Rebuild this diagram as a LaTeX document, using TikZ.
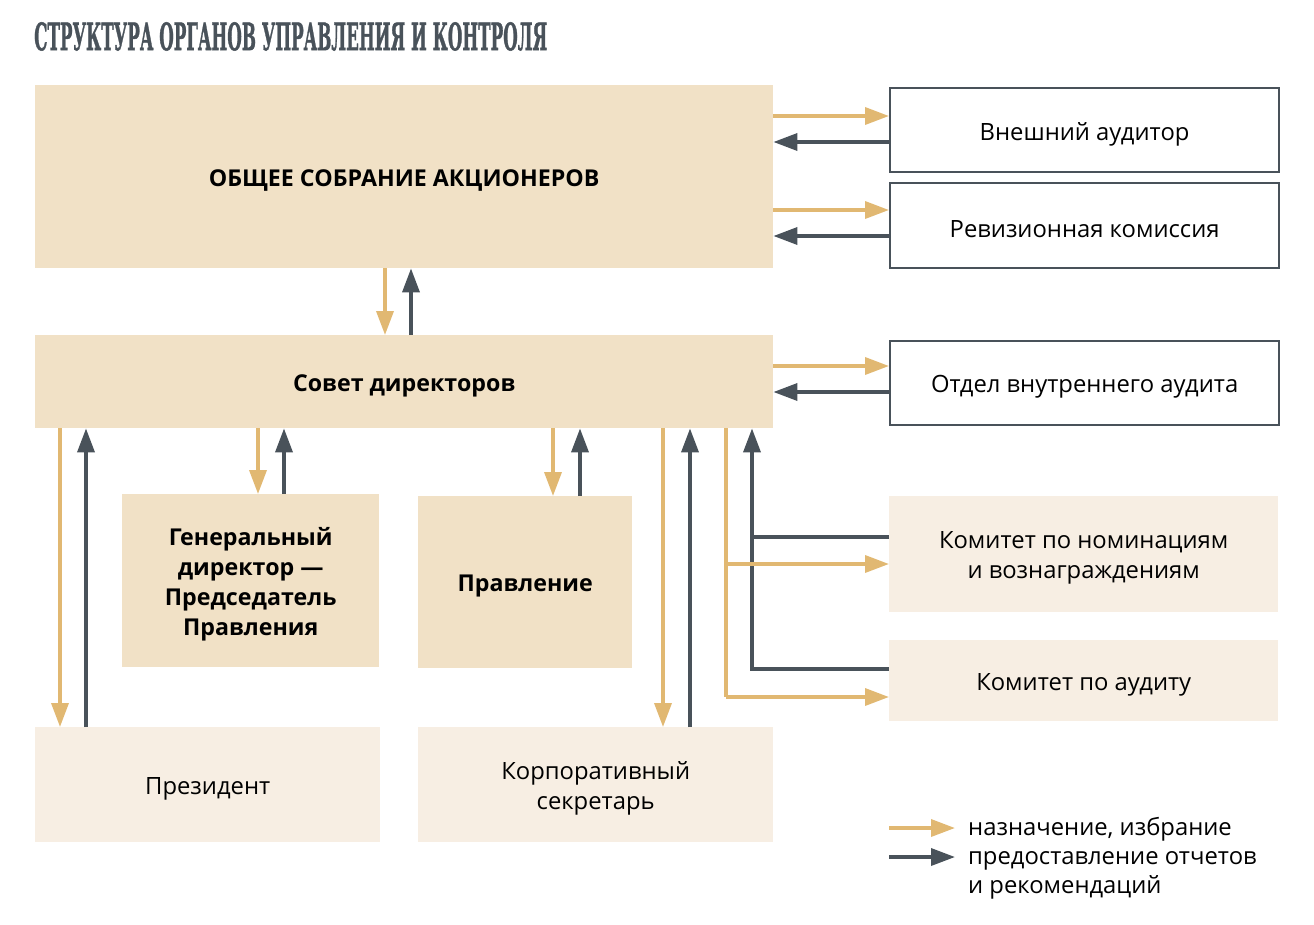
\documentclass[tikz,border=0pt]{standalone}
\usepackage{fontspec}
\setmainfont{Open Sans}
\usetikzlibrary{arrows.meta,calc}
\definecolor{beige}{HTML}{F1E1C6}
\definecolor{light}{HTML}{F7EEE3}
\definecolor{gold}{HTML}{E1B872}
\definecolor{dk}{HTML}{49525A}
\newfontfamily\titlefont{DejaVu Serif}[BoldFeatures={FakeBold=1.5}]
\tikzset{
  box/.style={anchor=north west,inner sep=0pt},
  bbox/.style={box,fill=beige},
  lbox/.style={box,fill=light},
  wbox/.style={box,fill=white,draw=dk,line width=2.2pt},
  txt/.style={inner sep=0pt,align=center,font=\fontsize{23.8}{30}\selectfont},
  btxt/.style={inner sep=0pt,align=center,font=\fontsize{23.2}{30}\selectfont\bfseries},
  ga/.style={draw=gold,line width=3.5pt,-{Triangle[length=24pt,width=17pt]}},
  da/.style={draw=dk,line width=3.5pt,-{Triangle[length=24pt,width=17pt]}},
  gl/.style={draw=gold,line width=3.5pt},
  dl/.style={draw=dk,line width=3.5pt},
}
\begin{document}
\begin{tikzpicture}[x=1pt,y=-1pt]
\useasboundingbox (0,0) rectangle (1314,924);
\node[anchor=north west,inner sep=0pt,text=dk] (title) at (34,22)
  {\resizebox{513pt}{28pt}{\titlefont\bfseries СТРУКТУРА ОРГАНОВ УПРАВЛЕНИЯ И КОНТРОЛЯ}};
% boxes
\node[bbox,minimum width=738pt,minimum height=183pt] (osa) at (35,85) {};
\node[wbox,minimum width=389pt,minimum height=84pt] (ext) at (889,87) {};
\node[wbox,minimum width=389pt,minimum height=85pt] (rev) at (889,182) {};
\node[bbox,minimum width=738pt,minimum height=93pt] (sov) at (35,335) {};
\node[wbox,minimum width=389pt,minimum height=84pt] (ia) at (889,340) {};
\node[bbox,minimum width=257pt,minimum height=173pt] (gen) at (122,494) {};
\node[bbox,minimum width=214pt,minimum height=172pt] (prav) at (418,496) {};
\node[lbox,minimum width=389pt,minimum height=116pt] (nom) at (889,496) {};
\node[lbox,minimum width=389pt,minimum height=81pt] (aud) at (889,640) {};
\node[lbox,minimum width=345pt,minimum height=115pt] (pres) at (35,727) {};
\node[lbox,minimum width=355pt,minimum height=115pt] (sec) at (418,727) {};
% texts
\node[btxt] (osaT) at ([yshift=-4pt]osa.center) {ОБЩЕЕ СОБРАНИЕ АКЦИОНЕРОВ};
\node[txt] (extT) at ([yshift=-4pt]ext.center) {Внешний аудитор};
\node[txt] (revT) at ([yshift=-4pt]rev.center) {Ревизионная комиссия};
\node[btxt] (sovT) at ([yshift=-4pt]sov.center) {Совет директоров};
\node[txt] (iaT) at ([yshift=-4pt]ia.center) {Отдел внутреннего аудита};
\node[btxt] (genT) at ([yshift=-4pt]gen.center) {Генеральный\\директор —\\Председатель\\Правления};
\node[btxt] (pravT) at ([yshift=-4pt]prav.center) {Правление};
\node[txt] (nomT) at ([yshift=-4pt]nom.center) {Комитет по номинациям\\и вознаграждениям};
\node[txt] (audT) at ([yshift=-4pt]aud.center) {Комитет по аудиту};
\node[txt] (presT) at ([yshift=-4pt]pres.center) {Президент};
\node[txt] (secT) at ([yshift=-4pt]sec.center) {Корпоративный\\секретарь};
% helper coordinates
\foreach \n/\v in {y116/116,y142/142,y210/210,y236/236,y366/366,y392/392,y537/537,y564/564,y669/669,y697/697}
  \coordinate (\n) at (0,\v);
\foreach \n/\v in {x60/60,x86/86,x258/258,x284/284,x385/385,x411/411,x553/553,x580/580,x663/663,x690/690,x726/726,x752/752}
  \coordinate (\n) at (\v,0);
% right side arrows
\draw[ga] (osa.east |- y116) -- (ext.west |- y116);
\draw[da] (ext.west |- y142) -- (osa.east |- y142);
\draw[ga] (osa.east |- y210) -- (rev.west |- y210);
\draw[da] (rev.west |- y236) -- (osa.east |- y236);
\draw[ga] (sov.east |- y366) -- (ia.west |- y366);
\draw[da] (ia.west |- y392) -- (sov.east |- y392);
% vertical
\draw[ga] (osa.south -| x385) -- (sov.north -| x385);
\draw[da] (sov.north -| x411) -- (osa.south -| x411);
\draw[ga] (sov.south -| x258) -- (gen.north -| x258);
\draw[da] (gen.north -| x284) -- (sov.south -| x284);
\draw[ga] (sov.south -| x553) -- (prav.north -| x553);
\draw[da] (prav.north -| x580) -- (sov.south -| x580);
\draw[ga] (sov.south -| x60) -- (pres.north -| x60);
\draw[da] (pres.north -| x86) -- (sov.south -| x86);
\draw[ga] (sov.south -| x663) -- (sec.north -| x663);
\draw[da] (sec.north -| x690) -- (sov.south -| x690);
% committees
\draw[dl] (nom.west |- y537) -- (x752 |- y537);
\draw[da] (aud.west |- y669) -- (x752 |- y669) -- (sov.south -| x752);
\draw[gl] (sov.south -| x726) -- (x726 |- y697);
\draw[ga] (x726 |- y564) -- (nom.west |- y564);
\draw[ga] (x726 |- y697) -- (aud.west |- y697);
% legend
\coordinate (lg1) at (889,828);
\coordinate (lg1e) at (955,828);
\coordinate (lg2) at (889,857);
\coordinate (lg2e) at (955,857);
\draw[ga] (lg1) -- (lg1e);
\draw[da] (lg2) -- (lg2e);
\node[anchor=north west,inner sep=0pt,align=left,font=\fontsize{23.8}{29}\selectfont] (leg) at (968,817)
  {назначение, избрание\\предоставление отчетов\\и рекомендаций};
\end{tikzpicture}
\end{document}
